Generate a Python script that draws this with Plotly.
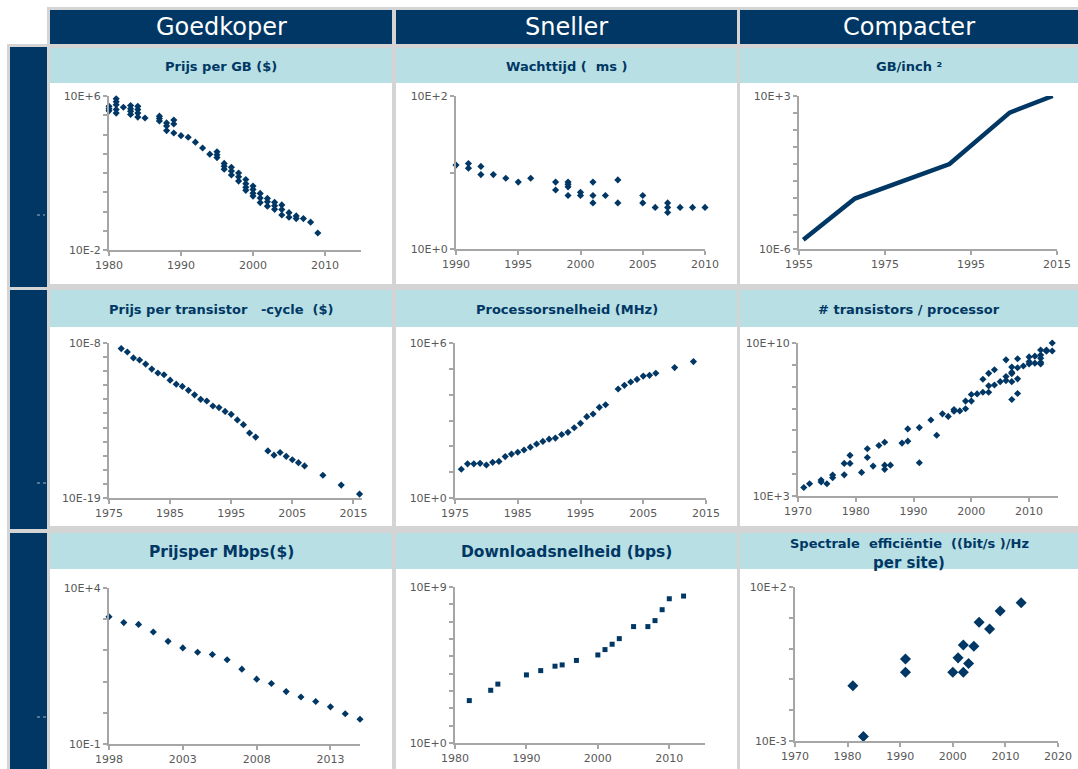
import plotly.graph_objects as go

W, H = 1078, 769
NAVY = "#003764"
BAND = "#b8dfe3"
GRID = "#d4d4d4"
AXIS = "#a6a6a6"
TICK = "#595959"
FONT = "DejaVu Sans"

# ---------------- data ----------------
# Prijs per GB ($)
gb_years = [1980, 1980, 1980, 1981, 1981, 1981, 1981, 1981, 1982, 1983, 1983, 1983, 1983,
            1984, 1984, 1984, 1984, 1985, 1987, 1987, 1987, 1988, 1988, 1988, 1989, 1989, 1989,
            1990, 1991, 1992, 1993, 1994, 1995, 1995, 1995, 1996, 1996, 1996, 1997, 1997, 1997,
            1998, 1998, 1998, 1999, 1999, 1999, 1999, 2000, 2000, 2000, 2000, 2001, 2001, 2001,
            2002, 2002, 2002, 2003, 2003, 2003, 2004, 2004, 2004, 2005, 2005, 2006, 2006,
            2007, 2008, 2009]
gb_price = [2.9e5, 2.2e5, 1.7e5, 7.2e5, 5.0e5, 3.5e5, 2.0e5, 1.3e5, 2.6e5, 3.2e5, 2.2e5, 1.6e5, 1.1e5,
            2.9e5, 2.0e5, 1.3e5, 8.0e4, 7.2e4, 9.0e4, 6.8e4, 5.0e4, 4.0e4, 2.8e4, 1.6e4, 5.6e4, 3.5e4, 1.2e4,
            8.7e3, 7.2e3, 4.0e3, 2.0e3, 950, 1260, 890, 630, 316, 224, 158, 200, 126, 79,
            100, 63, 38, 46, 28, 18, 12.6, 21, 14, 9, 6.3, 8.7, 5.0, 2.9,
            4.8, 3.2, 1.9, 3.0, 2.0, 1.3, 2.2, 1.26, 0.66, 0.87, 0.5, 0.59, 0.43,
            0.43, 0.28, 0.076]

# Wachttijd (ms)
lat_years = [1990, 1991, 1991, 1992, 1992, 1993, 1994, 1995, 1996, 1998, 1998,
             1999, 1999, 1999, 1999, 2000, 2000, 2001, 2001, 2001, 2002, 2003, 2003,
             2005, 2005, 2006, 2007, 2007, 2007, 2008, 2009, 2010]
lat_ms = [12.5, 13.1, 11.4, 12.0, 9.4, 9.4, 8.4, 7.5, 8.4, 7.5, 5.9,
          7.5, 7.0, 6.5, 5.0, 5.5, 5.0, 7.5, 5.0, 4.0, 5.0, 8.0, 4.0,
          5.0, 4.0, 3.5, 4.0, 3.5, 3.0, 3.5, 3.5, 3.5]

# GB/inch^2
dens_years = [1956, 1968, 1990, 2004, 2014]
dens_gb = [3.5e-6, 9.3e-4, 0.1, 105, 1000]

# Prijs per transistor-cycle ($)
tc_years = [1977, 1978, 1979, 1980, 1981, 1982, 1983, 1984, 1985, 1986, 1987, 1988, 1989,
            1990, 1991, 1992, 1993, 1994, 1995, 1996, 1997, 1998, 1999, 2001, 2002, 2003,
            2004, 2005, 2006, 2007, 2010, 2013, 2016]
tc_price = [4.0e-9, 2.3e-9, 8.7e-10, 6.2e-10, 3.2e-10, 1.4e-10, 7.4e-11, 5.6e-11, 2.3e-11,
            1.2e-11, 8.3e-12, 4.4e-12, 2.1e-12, 1.0e-12, 7.6e-13, 3.4e-13, 2.6e-13, 1.4e-13,
            8.7e-14, 3.5e-14, 1.6e-14, 4.1e-15, 2.1e-15, 2.2e-16, 1.1e-16, 1.7e-16, 9.1e-17,
            5.2e-17, 3.2e-17, 1.9e-17, 4.1e-18, 8.3e-19, 1.9e-19]

# Processorsnelheid (MHz)
cpu_years = [1976, 1977, 1978, 1979, 1980, 1981, 1982, 1983, 1984, 1985, 1986, 1987, 1988,
             1989, 1990, 1991, 1992, 1993, 1994, 1995, 1996, 1997, 1998, 1999, 2001, 2002,
             2003, 2004, 2005, 2006, 2007, 2010, 2013]
cpu_mhz = [13, 21, 21, 22, 19, 24, 26, 40, 50, 59, 72, 93, 123, 155, 190, 209, 288, 347, 525,
           776, 1410, 1780, 3240, 4070, 16600, 22900, 30900, 38900, 52500, 56200, 67600,
           112000, 191000]

# # transistors / processor
tr_years = [1971, 1972, 1974, 1974, 1975, 1976, 1976, 1978, 1978, 1979, 1979, 1981, 1982, 1982,
            1983, 1984, 1985, 1985, 1985, 1986, 1988, 1989, 1989, 1991, 1991, 1993, 1994, 1995,
            1996, 1997, 1997, 1998, 1999, 1999, 2000, 2000, 2001, 2002, 2002, 2003, 2003, 2003,
            2004, 2004, 2005, 2006, 2006, 2006, 2007, 2007, 2007, 2007, 2007, 2008, 2008, 2008,
            2008, 2009, 2010, 2010, 2010, 2011, 2011, 2012, 2012, 2012, 2012, 2012, 2013, 2013,
            2014, 2014]
tr_count = [2450, 3630, 5370, 4370, 3630, 9120, 6920, 30900, 9330, 72400, 30900, 12000, 145000,
            57500, 23400, 204000, 288000, 25700, 16600, 25700, 263000, 1.17e6, 324000, 1.35e6,
            33100, 3.0e6, 603000, 5.75e6, 4.37e6, 9.1e6, 7.6e6, 7.8e6, 2.2e7, 9.8e6, 4.4e7,
            2.2e7, 4.7e7, 2.2e8, 5.6e7, 4.1e8, 1.1e8, 5.6e7, 6.0e8, 1.2e8, 1.7e8, 1.7e9, 2.9e8,
            1.9e8, 7.9e8, 4.6e8, 4.0e8, 1.7e8, 2.6e7, 1.9e9, 7.4e8, 2.3e8, 4.9e7, 8.9e8, 2.3e9,
            1.4e9, 1.1e9, 2.5e9, 1.2e9, 4.8e9, 2.8e9, 2.0e9, 1.3e9, 1.1e9, 4.8e9, 4.2e9,
            1.0e10, 4.3e9]

# Prijs per Mbps ($)
mb_years = [1998, 1999, 2000, 2001, 2002, 2003, 2004, 2005, 2006, 2007, 2008, 2009, 2010,
            2011, 2012, 2013, 2014, 2015]
mb_price = [1200, 780, 680, 390, 195, 120, 87, 74, 50, 25, 12, 8.7, 4.8, 3.2, 2.3, 1.55,
            0.93, 0.62]

# Downloadsnelheid (bps)
dl_years = [1982, 1985, 1986, 1990, 1992, 1994, 1995, 1997, 2000, 2001, 2002, 2003, 2005,
            2007, 2008, 2009, 2010, 2012]
dl_bps = [280, 1100, 2500, 8500, 15000, 27000, 32000, 58000, 120000, 245000, 500000,
          1.05e6, 5.2e6, 5.2e6, 1.15e7, 4.9e7, 2.1e8, 3.0e8]

# Spectrale efficientie ((bit/s)/Hz per site)
se_years = [1981, 1983, 1991, 1991, 2000, 2001, 2002, 2002, 2003, 2004, 2005, 2007, 2009, 2013]
se_eff = [0.062, 0.0014, 0.46, 0.17, 0.17, 0.5, 1.3, 0.17, 0.33, 1.2, 7.2, 4.3, 16.6, 31]

col_headers = ["Goedkoper", "Sneller", "Compacter"]
titles = ["Prijs per GB ($)", "Wachttijd (\u00a0 ms\u00a0)", "GB/inch \u00b2",
          "Prijs per transistor \u00a0 -cycle \u00a0($)", "Processorsnelheid (MHz)",
          "# transistors / processor",
          "Prijsper Mbps($)", "Downloadsnelheid (bps)", ""]

# ---------------- layout geometry ----------------
col_x = [(50, 392), (396, 737), (740, 1078)]
row_y = [(48, 83, 287), (290, 327, 529), (533, 569, 769)]

fig = go.Figure()
shapes = []
annots = []

def px2x(p):
    return p / W

def px2y(p):
    return 1 - p / H

def rect(x0, y0, x1, y1, color):
    shapes.append(dict(type="rect", xref="paper", yref="paper", layer="below",
                       x0=px2x(x0), x1=px2x(x1), y0=px2y(y1), y1=px2y(y0),
                       fillcolor=color, line=dict(width=0)))

# gray table background
rect(7, 44, 1078, 769, GRID)
rect(47, 7, 1078, 48, GRID)
# column headers
for (x0, x1), txt in zip(col_x, col_headers):
    rect(x0, 10, x1, 44, NAVY)
    annots.append(dict(x=px2x((x0 + x1) / 2), y=px2y(27), xref="paper", yref="paper",
                       text=txt, showarrow=False, xanchor="center", yanchor="middle",
                       font=dict(family=FONT, size=24, color="white")))
# left strips + cells
for r, (yt, yb, ye) in enumerate(row_y):
    rect(10, yt - (1 if r == 0 else 0), 47, ye, NAVY)
    for c, (x0, x1) in enumerate(col_x):
        rect(x0, yt, x1, yb, BAND)
        rect(x0, yb, x1, ye - (3 if r < 2 else 0), "white")
        t = titles[r * 3 + c]
        if t:
            size = 15.5 if r == 2 else 13
            annots.append(dict(x=px2x((x0 + x1) / 2), y=px2y((yt + yb) / 2 + 1),
                               xref="paper", yref="paper", text="<b>" + t + "</b>",
                               showarrow=False, xanchor="center", yanchor="middle",
                               font=dict(family=FONT, size=size, color=NAVY)))
# spectral title (two lines)
annots.append(dict(x=px2x(909), y=px2y(543), xref="paper", yref="paper",
                   text="<b>Spectrale \u00a0effici\u00ebntie \u00a0((bit/s\u00a0)/Hz</b>",
                   showarrow=False, xanchor="center", yanchor="middle",
                   font=dict(family=FONT, size=13, color=NAVY)))
annots.append(dict(x=px2x(909), y=px2y(563), xref="paper", yref="paper",
                   text="<b>per site)</b>", showarrow=False, xanchor="center",
                   yanchor="middle", font=dict(family=FONT, size=15, color=NAVY)))
# small marks on the left strips
for (x0, x1, y) in [(37, 45, 215), (37, 49, 483), (37, 48, 717)]:
    shapes.append(dict(type="line", xref="paper", yref="paper", x0=px2x(x0), x1=px2x(x1),
                       y0=px2y(y), y1=px2y(y), line=dict(color="#9fb3c6", width=1, dash="dot")))

# ---------------- panels ----------------
panels = [
    dict(x=gb_years, y=gb_price, kind="m", sym="diamond", size=5.5,
         px=(109, 361), py=(96, 250), xr=(1980, 2015), t0=1980, dt=10, yr=(-2, 6),
         lab=("10E+6", "10E-2")),
    dict(x=lat_years, y=lat_ms, kind="m", sym="diamond", size=5.5,
         px=(456, 705), py=(96, 249), xr=(1990, 2010), t0=1990, dt=5, yr=(0, 2),
         lab=("10E+2", "10E+0")),
    dict(x=dens_years, y=dens_gb, kind="l",
         px=(799, 1057), py=(96, 249), xr=(1955, 2015), t0=1955, dt=20, yr=(-6, 3),
         lab=("10E+3", "10E-6")),
    dict(x=tc_years, y=tc_price, kind="m", sym="diamond", size=5.5,
         px=(109, 362), py=(343, 498), xr=(1975, 2016.4), t0=1975, dt=10, yr=(-19, -8),
         lab=("10E-8", "10E-19")),
    dict(x=cpu_years, y=cpu_mhz, kind="m", sym="diamond", size=5.5,
         px=(455, 706), py=(343, 498), xr=(1975, 2015), t0=1975, dt=10, yr=(0, 6),
         lab=("10E+6", "10E+0")),
    dict(x=tr_years, y=tr_count, kind="m", sym="diamond", size=5.5,
         px=(798, 1058), py=(343, 496), xr=(1970, 2015), t0=1970, dt=10, yr=(3, 10),
         lab=("10E+10", "10E+3")),
    dict(x=mb_years, y=mb_price, kind="m", sym="diamond", size=5.5,
         px=(109, 360), py=(588, 744), xr=(1998, 2015), t0=1998, dt=5, yr=(-1, 4),
         lab=("10E+4", "10E-1")),
    dict(x=dl_years, y=dl_bps, kind="m", sym="square", size=5,
         px=(455, 705), py=(587, 743), xr=(1980, 2015), t0=1980, dt=10, yr=(0, 9),
         lab=("10E+9", "10E+0")),
    dict(x=se_years, y=se_eff, kind="m", sym="diamond", size=8.5,
         px=(795, 1058), py=(587, 741), xr=(1970, 2020), t0=1970, dt=10, yr=(-3, 2),
         lab=("10E+2", "10E-3")),
]

layout_axes = {}
for i, p in enumerate(panels):
    n = "" if i == 0 else str(i + 1)
    if p["kind"] == "l":
        tr = go.Scatter(x=p["x"], y=p["y"], mode="lines",
                        line=dict(color=NAVY, width=4.5), xaxis="x" + n, yaxis="y" + n,
                        showlegend=False, hoverinfo="skip")
    else:
        tr = go.Scatter(x=p["x"], y=p["y"], mode="markers",
                        marker=dict(symbol=p["sym"], size=p["size"], color=NAVY,
                                    line=dict(width=0)),
                        xaxis="x" + n, yaxis="y" + n, showlegend=False, cliponaxis=False)
    fig.add_trace(tr)
    lo, hi = p["yr"]
    tv = [10.0 ** k for k in range(lo, hi + 1)]
    tt = [""] * len(tv)
    tt[0] = p["lab"][1]
    tt[-1] = p["lab"][0]
    layout_axes["xaxis" + n] = dict(
        domain=[px2x(p["px"][0]), px2x(p["px"][1])], range=list(p["xr"]),
        tick0=p["t0"], dtick=p["dt"], showgrid=False, zeroline=False,
        showline=True, linecolor=AXIS, linewidth=2, ticks="outside", ticklen=4,
        tickcolor=AXIS, tickwidth=1.5, anchor="y" + n, automargin=False,
        tickfont=dict(family=FONT, size=11, color=TICK), fixedrange=True)
    layout_axes["yaxis" + n] = dict(
        domain=[px2y(p["py"][1]), px2y(p["py"][0])], type="log", range=[lo, hi],
        tickvals=tv, ticktext=tt, showgrid=False, zeroline=False,
        showline=True, linecolor=AXIS, linewidth=2, ticks="outside", ticklen=4,
        tickcolor=AXIS, tickwidth=1.5, anchor="x" + n, automargin=False,
        tickfont=dict(family=FONT, size=11, color=TICK), fixedrange=True)

fig.update_layout(
    width=W, height=H,
    margin=dict(l=0, r=0, t=0, b=0, pad=0, autoexpand=False),
    paper_bgcolor="white", plot_bgcolor="rgba(0,0,0,0)",
    shapes=shapes, annotations=annots, showlegend=False,
    font=dict(family=FONT), **layout_axes)

fig.write_html("out.html", config={"displayModeBar": False},
               post_script="document.body.style.margin='0';"
                           "document.body.style.overflow='hidden';")
